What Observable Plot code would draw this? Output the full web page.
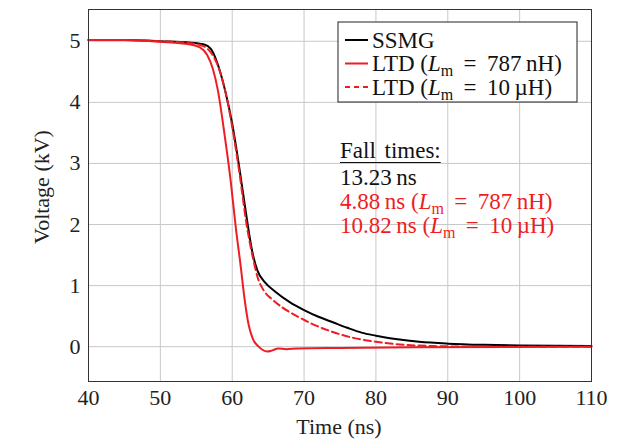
<!DOCTYPE html>
<html>
<head>
<meta charset="utf-8">
<script src="https://cdn.jsdelivr.net/npm/d3@7"></script>
<script src="https://cdn.jsdelivr.net/npm/@observablehq/plot@0.6"></script>
<style>
  html, body { margin: 0; padding: 0; background: #fff; }
  #chart { width: 626px; height: 445px; }
</style>
</head>
<body>
<div id="chart"></div>
<script>
// ---- data ----
const xTicks = [40, 50, 60, 70, 80, 90, 100, 110];
const yTicks = [0, 1, 2, 3, 4, 5];

const ssmgTime = [40, 45, 50, 54, 56, 57, 58, 59, 60, 61, 62, 62.8, 63.5, 64.5, 66, 68, 70, 72, 74, 76, 78, 80, 83, 86, 90, 95, 100, 110];
const ssmgVolt = [5.02, 5.02, 5.0, 4.98, 4.95, 4.88, 4.62, 4.2, 3.65, 2.92, 2.12, 1.55, 1.25, 1.06, 0.9, 0.73, 0.6, 0.49, 0.4, 0.31, 0.23, 0.18, 0.12, 0.08, 0.05, 0.03, 0.02, 0.01];

const ltd787Time = [40, 45, 50, 54, 55.5, 56.5, 57.3, 58, 58.9, 59.8, 60.5, 61.2, 61.7, 62.3, 62.9, 63.5, 64.2, 64.9, 65.6, 66.4, 67.5, 69, 75, 85, 110];
const ltd787Volt = [5.02, 5.02, 4.99, 4.95, 4.9, 4.78, 4.55, 4.2, 3.5, 2.7, 1.95, 1.3, 0.8, 0.35, 0.12, 0.02, -0.05, -0.08, -0.06, -0.03, -0.04, -0.03, -0.02, -0.01, 0.0];

const ltd10Time = [40, 45, 50, 54, 56, 57, 58, 59, 60, 61, 62, 62.8, 63.5, 64.5, 65.5, 67, 69, 71, 74, 77, 80, 84, 88, 95, 110];
const ltd10Volt = [5.02, 5.02, 5.0, 4.97, 4.92, 4.82, 4.6, 4.2, 3.6, 2.85, 2.0, 1.5, 1.15, 0.9, 0.78, 0.64, 0.5, 0.38, 0.24, 0.14, 0.08, 0.03, 0.01, 0.0, 0.0];

const legendLabels = ["SSMG", "LTD (", "LTD ("];
const legendSuffix = ["", " \u2009=\u2009 787\u2009nH)", " \u2009=\u2009 10\u2009\u00b5H)"];
const fallTitle = "Fall times:";
const fallLines = ["13.23\u2009ns", "4.88\u2009ns (", "10.82\u2009ns ("];
const fallSuffix = ["", " \u2009=\u2009 787\u2009nH)", " \u2009=\u2009 10\u2009\u00b5H)"];

const toRows = (t, v) => t.map((x, i) => ({t: x, v: v[i]}));
const ssmg = toRows(ssmgTime, ssmgVolt);
const ltd787 = toRows(ltd787Time, ltd787Volt);
const ltd10 = toRows(ltd10Time, ltd10Volt);

const RED = "#ee1d23";
const FONT = "'Liberation Serif', 'Times New Roman', serif";
const FS = 23;

const plot = Plot.plot({
  width: 626,
  height: 445,
  marginLeft: 88,
  marginRight: 35,
  marginTop: 9,
  marginBottom: 64,
  style: {fontFamily: FONT, fontSize: "22px", background: "#fff", color: "#222"},
  x: {domain: [40, 110], label: null},
  y: {domain: [-0.57, 5.52], label: null},
  marks: [
    Plot.gridX(xTicks, {stroke: "#c8c8c8", strokeOpacity: 1, strokeWidth: 1}),
    Plot.gridY(yTicks, {stroke: "#c8c8c8", strokeOpacity: 1, strokeWidth: 1}),
    Plot.axisX(xTicks, {tickSize: 0, tickPadding: 8, fontSize: 22, label: null, tickFormat: d3.format("d")}),
    Plot.axisY(yTicks, {tickSize: 0, tickPadding: 8, fontSize: 22, label: null, tickFormat: d3.format("d")}),
    Plot.line(ssmg, {x: "t", y: "v", stroke: "#000", strokeWidth: 2, curve: "monotone-x"}),
    Plot.line(ltd787, {x: "t", y: "v", stroke: RED, strokeWidth: 2, curve: "monotone-x"}),
    Plot.line(ltd10, {x: "t", y: "v", stroke: RED, strokeWidth: 2, strokeDasharray: "7,4", curve: "monotone-x"}),
    Plot.frame({stroke: "#333", strokeWidth: 1})
  ]
});
document.getElementById("chart").appendChild(plot);

const svg = d3.select(plot);

// axis titles
svg.append("text")
  .attr("x", 339).attr("y", 434)
  .attr("text-anchor", "middle")
  .attr("font-family", FONT).attr("font-size", 22).attr("fill", "#222")
  .text("Time (ns)");
svg.append("text")
  .attr("transform", "translate(49,187) rotate(-90)")
  .attr("text-anchor", "middle")
  .attr("font-family", FONT).attr("font-size", 22).attr("fill", "#222")
  .text("Voltage (kV)");

// helper: "... (L_m = ...)"
function lmText(sel, prefix, suffix) {
  sel.append("tspan").text(prefix);
  if (!suffix) return;
  sel.append("tspan").attr("font-style", "italic").text("L");
  sel.append("tspan").attr("font-size", 16).attr("dy", 5).text("m");
  sel.append("tspan").attr("dy", -5).text(suffix);
}

// legend
const lg = svg.append("g").attr("font-family", FONT).attr("font-size", FS).attr("fill", "#111").attr("text-anchor", "start");
lg.append("rect").attr("x", 338).attr("y", 22).attr("width", 239).attr("height", 80)
  .attr("fill", "#fff").attr("stroke", "#222").attr("stroke-width", 1);
const rowsY = [40, 63.5, 87];
const styles = [["#000", null], [RED, null], [RED, "5,4"]];
rowsY.forEach((y, i) => {
  const ln = lg.append("line").attr("x1", 345).attr("x2", 368).attr("y1", y).attr("y2", y)
    .attr("stroke", styles[i][0]).attr("stroke-width", 2);
  if (styles[i][1]) ln.attr("stroke-dasharray", styles[i][1]);
  lmText(lg.append("text").attr("x", 372).attr("y", y + 7.5), legendLabels[i], legendSuffix[i]);
});

// fall times annotation
const an = svg.append("g").attr("font-family", FONT).attr("font-size", FS).attr("text-anchor", "start");
const title = an.append("text").attr("x", 340).attr("y", 158).attr("fill", "#111").attr("word-spacing", 3).text(fallTitle);
const tw = title.node().getComputedTextLength();
an.append("line").attr("x1", 340).attr("x2", 340 + tw).attr("y1", 162.5).attr("y2", 162.5)
  .attr("stroke", "#111").attr("stroke-width", 1.2);
const fallY = [185, 208.5, 232.5];
const fallColor = ["#111", RED, RED];
fallLines.forEach((s, i) => {
  lmText(an.append("text").attr("x", 340).attr("y", fallY[i]).attr("fill", fallColor[i]), s, fallSuffix[i]);
});
</script>
</body>
</html>
